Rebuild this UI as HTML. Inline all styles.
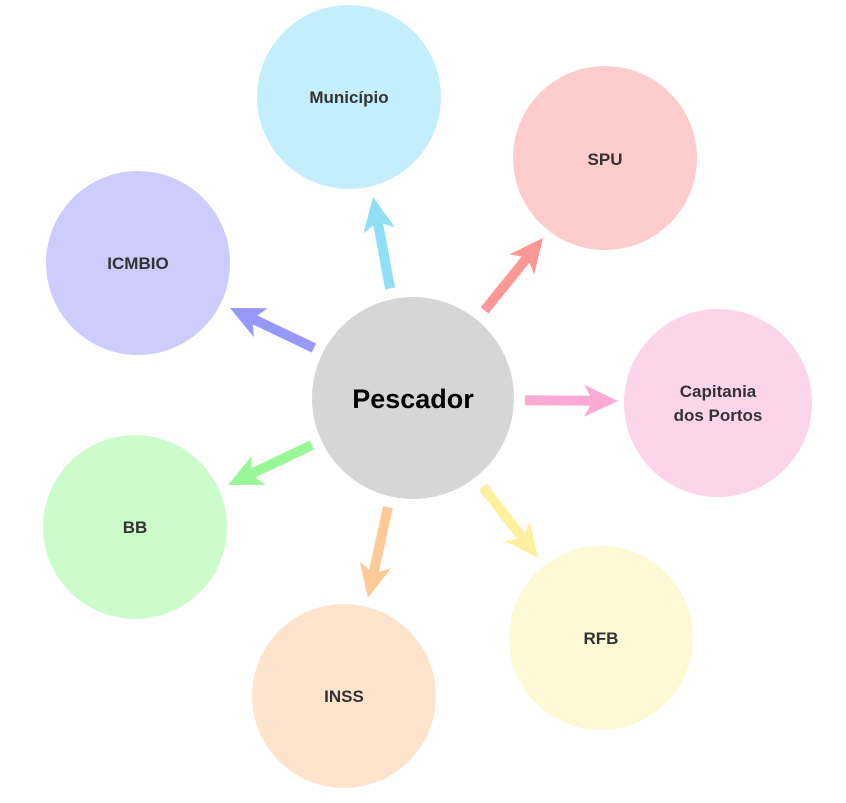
<!DOCTYPE html>
<html><head><meta charset="utf-8"><style>
html,body{margin:0;padding:0;background:#fff;}
svg text{font-family:"Liberation Sans","DejaVu Sans",sans-serif;font-weight:bold;fill:#333;text-anchor:middle;}
</style></head><body>
<svg width="846" height="798" viewBox="0 0 846 798" xmlns="http://www.w3.org/2000/svg">
<circle cx="349" cy="97" r="92" fill="#c5eefc"/>
<circle cx="605" cy="158" r="92" fill="#fecccc"/>
<circle cx="718" cy="403" r="94" fill="#fdd5ea"/>
<circle cx="601" cy="638" r="92" fill="#fff8d4"/>
<circle cx="344" cy="696" r="92" fill="#fee4cc"/>
<circle cx="135" cy="527" r="92" fill="#ccfccc"/>
<circle cx="138" cy="263" r="92" fill="#ccccfd"/>
<circle cx="413" cy="398" r="101" fill="#d6d6d6"/>

<g transform="translate(373,197) rotate(-100.6)" fill="#8fdff5"><rect x="-93" y="-5" width="70" height="10"/><path d="M0,0 L-34,-16 L-25,0 L-34,16 Z"/></g>
<g transform="translate(543,238) rotate(-51.1)" fill="#fe9898"><rect x="-93" y="-5" width="70" height="10"/><path d="M0,0 L-34,-16 L-25,0 L-34,16 Z"/></g>
<g transform="translate(618,401) rotate(0.5)" fill="#fcaad3"><rect x="-93" y="-5" width="70" height="10"/><path d="M0,0 L-34,-16 L-25,0 L-34,16 Z"/></g>
<g transform="translate(538,558) rotate(52.2)" fill="#fff0a0"><rect x="-90" y="-5" width="67" height="10"/><path d="M0,0 L-34,-16 L-25,0 L-34,16 Z"/></g>
<g transform="translate(368,598) rotate(102.4)" fill="#fecb98"><rect x="-93" y="-5" width="70" height="10"/><path d="M0,0 L-34,-16 L-25,0 L-34,16 Z"/></g>
<g transform="translate(228,485) rotate(154.5)" fill="#98f898"><rect x="-93" y="-5" width="70" height="10"/><path d="M0,0 L-34,-16 L-25,0 L-34,16 Z"/></g>
<g transform="translate(230,308) rotate(-154.5)" fill="#9898fb"><rect x="-93" y="-5" width="70" height="10"/><path d="M0,0 L-34,-16 L-25,0 L-34,16 Z"/></g>

<text x="349" y="103" font-size="17">Município</text>
<text x="605" y="165" font-size="17">SPU</text>
<text x="718" y="397" font-size="17">Capitania</text>
<text x="718" y="421" font-size="17">dos Portos</text>
<text x="601" y="644" font-size="17">RFB</text>
<text x="344" y="702" font-size="17">INSS</text>
<text x="135" y="533" font-size="17">BB</text>
<text x="138" y="269" font-size="17">ICMBIO</text>
<text x="413" y="408" font-size="27" style="fill:#000">Pescador</text>
</svg>
</body></html>
